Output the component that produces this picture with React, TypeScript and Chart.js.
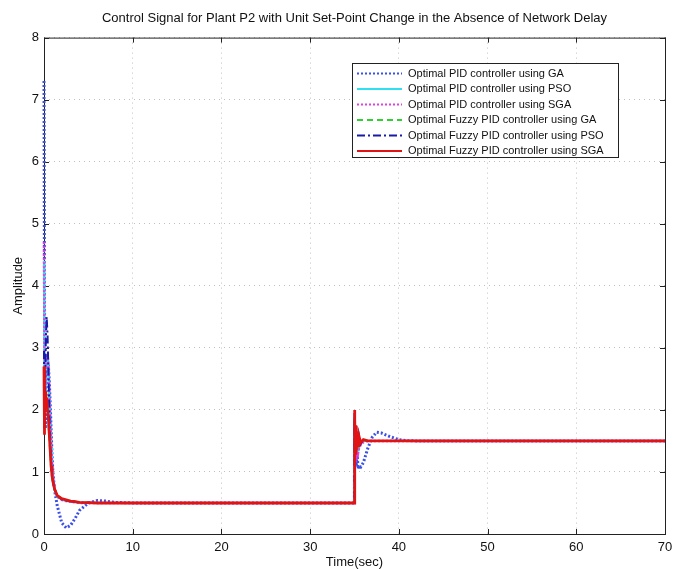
import React, { useEffect, useRef } from "react";
import { Chart, registerables } from "chart.js";

Chart.register(...registerables);

const TITLE = "Control Signal for Plant P2 with Unit Set-Point Change in the Absence of Network Delay";
const X_LABEL = "Time(sec)";
const Y_LABEL = "Amplitude";

const time = [
  0, 0.02, 0.05, 0.1, 0.15, 0.2, 0.3, 0.4, 0.5, 0.6,
  0.7, 0.8, 0.9, 1.0, 1.2, 1.5, 2.0, 2.5, 3.0, 3.5,
  4, 5, 6, 7, 8, 10, 15, 20, 25, 30,
  34.99, 35.0, 35.02, 35.05, 35.1, 35.15, 35.2, 35.3, 35.4, 35.5,
  35.7, 36, 36.5, 37, 37.5, 38, 39, 40, 41, 42,
  45, 50, 60, 70,
];

const pidGA = [
  7.3, 6.2, 4.0, 2.2, 1.7, 2.0, 2.6, 2.8, 2.7, 2.45,
  2.1, 1.7, 1.3, 1.0, 0.7, 0.45, 0.18, 0.1, 0.14, 0.25,
  0.38, 0.5, 0.54, 0.53, 0.51, 0.5, 0.5, 0.5, 0.5, 0.5,
  0.5, 1.85, 1.3, 1.7, 1.2, 1.5, 1.1, 1.3, 1.05, 1.1,
  1.08, 1.15, 1.38, 1.56, 1.64, 1.63, 1.57, 1.52, 1.505, 1.5,
  1.5, 1.5, 1.5, 1.5,
];

const pidPSO = [
  4.4, 3.6, 2.6, 2.0, 2.1, 2.5, 2.8, 2.85, 2.6, 2.2,
  1.8, 1.4, 1.1, 0.9, 0.7, 0.6, 0.55, 0.53, 0.52, 0.51,
  0.505, 0.5, 0.5, 0.5, 0.5, 0.5, 0.5, 0.5, 0.5, 0.5,
  0.5, 1.8, 1.3, 1.6, 1.25, 1.5, 1.3, 1.45, 1.35, 1.42,
  1.45, 1.5, 1.5, 1.5, 1.5, 1.5, 1.5, 1.5, 1.5, 1.5,
  1.5, 1.5, 1.5, 1.5,
];

const pidSGA = [
  4.7, 3.9, 2.9, 2.1, 2.2, 2.6, 2.9, 2.9, 2.7, 2.3,
  1.9, 1.5, 1.15, 0.95, 0.72, 0.6, 0.55, 0.53, 0.52, 0.51,
  0.5, 0.5, 0.5, 0.5, 0.5, 0.5, 0.5, 0.5, 0.5, 0.5,
  0.5, 1.75, 1.2, 1.55, 1.15, 1.4, 1.2, 1.35, 1.3, 1.38,
  1.44, 1.48, 1.5, 1.5, 1.5, 1.5, 1.5, 1.5, 1.5, 1.5,
  1.5, 1.5, 1.5, 1.5,
];

const fuzzyGA = [
  2.6, 1.7, 2.3, 2.0, 2.25, 2.05, 2.15, 1.95, 1.8, 1.55,
  1.3, 1.05, 0.92, 0.84, 0.72, 0.62, 0.57, 0.54, 0.53, 0.52,
  0.51, 0.505, 0.5, 0.5, 0.5, 0.5, 0.5, 0.5, 0.5, 0.5,
  0.5, 1.9, 1.3, 1.8, 1.35, 1.7, 1.4, 1.6, 1.45, 1.55,
  1.48, 1.51, 1.5, 1.5, 1.5, 1.5, 1.5, 1.5, 1.5, 1.5,
  1.5, 1.5, 1.5, 1.5,
];

const fuzzyPSO = [
  2.95, 2.2, 1.7, 2.0, 2.6, 3.1, 3.5, 3.2, 2.6, 2.0,
  1.5, 1.15, 0.95, 0.85, 0.72, 0.62, 0.56, 0.54, 0.53, 0.52,
  0.51, 0.505, 0.5, 0.5, 0.5, 0.5, 0.5, 0.5, 0.5, 0.5,
  0.5, 1.95, 1.2, 1.8, 1.3, 1.75, 1.35, 1.65, 1.4, 1.6,
  1.45, 1.52, 1.5, 1.5, 1.5, 1.5, 1.5, 1.5, 1.5, 1.5,
  1.5, 1.5, 1.5, 1.5,
];

const fuzzySGA = [
  2.7, 1.6, 2.4, 2.0, 2.3, 2.05, 2.2, 2.0, 1.85, 1.6,
  1.35, 1.1, 0.95, 0.85, 0.72, 0.62, 0.57, 0.55, 0.53, 0.52,
  0.51, 0.505, 0.5, 0.5, 0.5, 0.5, 0.5, 0.5, 0.5, 0.5,
  0.5, 2.0, 1.25, 1.85, 1.3, 1.75, 1.35, 1.65, 1.42, 1.58,
  1.47, 1.52, 1.5, 1.5, 1.5, 1.5, 1.5, 1.5, 1.5, 1.5,
  1.5, 1.5, 1.5, 1.5,
];

const seriesLabels = [
  "Optimal PID controller using GA",
  "Optimal PID controller using PSO",
  "Optimal PID controller using SGA",
  "Optimal Fuzzy PID controller using GA",
  "Optimal Fuzzy PID controller using PSO",
  "Optimal Fuzzy PID controller using SGA",
];

const FONT = '"Liberation Sans", Arial, Helvetica, sans-serif';

const toPoints = (vals: number[]) => time.map((t, i) => ({ x: t, y: vals[i] }));

const framePlugin = {
  id: "frame",
  beforeDatasetsDraw(chart: any) {
    const { ctx, chartArea, scales } = chart;
    const { left, right, top, bottom } = chartArea;
    ctx.save();
    ctx.strokeStyle = "#222";
    ctx.lineWidth = 1;
    ctx.setLineDash([]);
    ctx.strokeRect(left + 0.5, top + 0.5, right - left, bottom - top);
    const tl = 5;
    ctx.beginPath();
    scales.x.ticks.forEach((tk: any) => {
      const px = Math.round(scales.x.getPixelForValue(tk.value)) + 0.5;
      ctx.moveTo(px, bottom);
      ctx.lineTo(px, bottom - tl);
      ctx.moveTo(px, top);
      ctx.lineTo(px, top + tl);
    });
    scales.y.ticks.forEach((tk: any) => {
      const py = Math.round(scales.y.getPixelForValue(tk.value)) + 0.5;
      ctx.moveTo(left, py);
      ctx.lineTo(left + tl, py);
      ctx.moveTo(right, py);
      ctx.lineTo(right - tl, py);
    });
    ctx.stroke();
    ctx.restore();
  },
  afterDraw(chart: any) {
    const { ctx } = chart;
    ctx.save();
    const bx = 352, by = 63, bw = 266, bh = 94;
    ctx.fillStyle = "#fff";
    ctx.fillRect(bx, by, bw, bh);
    ctx.strokeStyle = "#222";
    ctx.lineWidth = 1;
    ctx.setLineDash([]);
    ctx.strokeRect(bx + 0.5, by + 0.5, bw, bh);
    const rowH = 15.5;
    ctx.font = "11px " + FONT;
    ctx.textBaseline = "middle";
    ctx.textAlign = "left";
    chart.data.datasets.forEach((ds: any, i: number) => {
      const y = by + 10.5 + i * rowH;
      ctx.beginPath();
      ctx.strokeStyle = ds.borderColor;
      ctx.lineWidth = 2;
      ctx.setLineDash(ds.borderDash || []);
      ctx.moveTo(357, y);
      ctx.lineTo(402, y);
      ctx.stroke();
      ctx.setLineDash([]);
      ctx.fillStyle = "#111";
      ctx.fillText(ds.label, 408, y);
    });
    ctx.restore();
  },
};

export default function App() {
  const ref = useRef<HTMLCanvasElement | null>(null);
  useEffect(() => {
    document.body.style.margin = "0";
    Chart.defaults.font.family = FONT;
    const styles = [
      { color: "#3a50e6", dash: [2, 2], width: 3, order: 6 },
      { color: "#30e0f0", dash: [], width: 2, order: 5 },
      { color: "#e040e0", dash: [2, 2], width: 2.5, order: 4 },
      { color: "#30d030", dash: [6, 4], width: 2, order: 3 },
      { color: "#1a1aa8", dash: [8, 3, 2, 3], width: 2, order: 2 },
      { color: "#e01414", dash: [], width: 2.8, order: 1 },
    ];
    const values = [pidGA, pidPSO, pidSGA, fuzzyGA, fuzzyPSO, fuzzySGA];
    const chart = new Chart(ref.current as HTMLCanvasElement, {
      type: "line",
      data: {
        datasets: values.map((v, i) => ({
          label: seriesLabels[i],
          data: toPoints(v),
          borderColor: styles[i].color,
          backgroundColor: styles[i].color,
          borderDash: styles[i].dash,
          borderWidth: styles[i].width,
          pointRadius: 0,
          tension: 0,
          fill: false,
          clip: 4,
          order: styles[i].order,
        })),
      },
      options: {
        responsive: false,
        animation: false,
        layout: { padding: { left: 0, right: 16, top: 0, bottom: 0 } },
        plugins: {
          legend: { display: false },
          tooltip: { enabled: false },
          title: {
            display: true,
            text: TITLE,
            fullSize: false,
            color: "#111",
            font: { size: 13, weight: "normal", family: FONT, lineHeight: 1.2 },
            padding: { top: 11, bottom: 11 },
          },
        },
        scales: {
          x: {
            type: "linear",
            min: 0,
            max: 70,
            ticks: { stepSize: 10, color: "#111", font: { size: 13, family: FONT }, padding: 6, maxRotation: 0 },
            grid: { color: "#c0c0c0", drawTicks: false },
            border: { display: false, dash: [1, 4] },
            title: {
              display: true,
              text: X_LABEL,
              color: "#111",
              font: { size: 13, family: FONT, lineHeight: 1 },
              padding: { top: 0, bottom: 0 },
            },
            afterFit: (s: any) => { s.height = 35; },
          },
          y: {
            type: "linear",
            min: 0,
            max: 8,
            ticks: { stepSize: 1, color: "#111", font: { size: 13, family: FONT }, padding: 5 },
            grid: { color: "#c0c0c0", drawTicks: false },
            border: { display: false, dash: [1, 4] },
            title: {
              display: true,
              text: Y_LABEL,
              color: "#111",
              font: { size: 13, family: FONT, lineHeight: 1 },
              padding: { top: 12, bottom: 0 },
            },
            afterFit: (s: any) => { s.width = 44; },
          },
        },
      },
      plugins: [framePlugin],
    } as any);
    return () => chart.destroy();
  }, []);
  return (
    <div style={{ width: 681, height: 569, background: "#fff" }}>
      <canvas ref={ref} width={681} height={569} style={{ display: "block" }} />
    </div>
  );
}
